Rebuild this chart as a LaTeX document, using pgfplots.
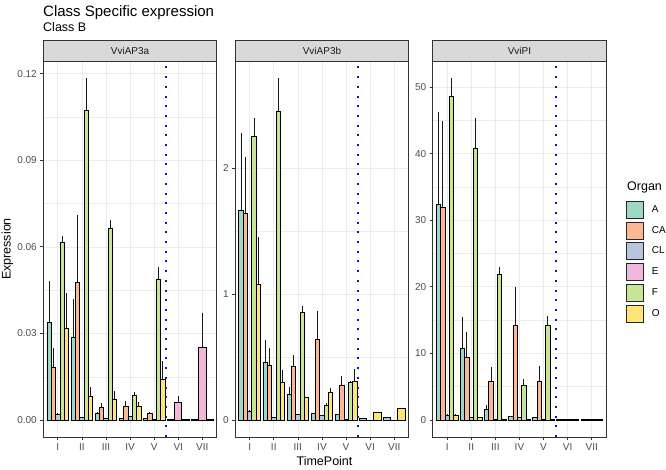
\documentclass[border=0pt]{standalone}
\usepackage{pgfplots}
\pgfplotsset{compat=1.18}
\usepackage{fontspec}
\setmainfont{Liberation Sans}
\definecolor{cA}{RGB}{158,215,197}
\definecolor{cCA}{RGB}{252,184,148}
\definecolor{cCL}{RGB}{185,196,223}
\definecolor{cE}{RGB}{240,183,218}
\definecolor{cF}{RGB}{200,229,150}
\definecolor{cO}{RGB}{255,229,118}
\definecolor{gridc}{RGB}{235,235,235}
\definecolor{framec}{RGB}{51,51,51}
\definecolor{ticklab}{RGB}{77,77,77}
\definecolor{stripc}{RGB}{217,217,217}
\definecolor{vlc}{RGB}{15,15,205}
\pgfplotsset{
  panel/.style={
    scale only axis, width=173.5pt, height=376pt,
    anchor=south west,
    xmin=0.4, xmax=7.6,
    xtick={1,2,3,4,5,6,7}, xticklabels={I,II,III,IV,V,VI,VII},
    axis line style={draw=framec, line width=0.8pt},
    tick style={draw=framec, line width=0.7pt},
    major tick length=3pt, minor tick length=0pt,
    tick align=outside, xtick pos=bottom, ytick pos=left,
    xmajorgrids, ymajorgrids, yminorgrids, minor y tick num=1,
    major grid style={draw=gridc, line width=0.6pt},
    minor grid style={draw=gridc, line width=0.3pt},
    tick label style={font=\fontsize{10}{12}\selectfont, text=ticklab},
    /pgf/number format/assume math mode=true,
    scaled y ticks=false,
  },
  bs/.style={ybar, bar shift=0pt, draw=black, line width=0.75pt, forget plot,
    error bars/y dir=plus, error bars/y explicit, error bars/error mark=none,
    error bars/error bar style={line width=0.9pt, draw=black!90}},
  vline/.style={vlc, line width=2pt, dash pattern=on 2pt off 7.7pt, forget plot},
}
\begin{document}
\begin{tikzpicture}
\path[use as bounding box] (0,0) rectangle (666pt,-469pt);
% ---------------- Panel 1 : VviAP3a
\begin{axis}[panel, at={(43.3pt,-437pt)},
  ymin=-0.0059, ymax=0.1244, ytick={0,0.03,0.06,0.09,0.12},
  yticklabel style={/pgf/number format/.cd, fixed, fixed zerofill, precision=2}]
\addplot[bs, fill=cA, bar width=0.18] coordinates {(0.64,0.0337) +- (0,0.0144) (1.64,0.0288) +- (0,0.0132) (2.64,0.0024) +- (0,0.0004) (3.64,0.0006) +- (0,0) (4.64,0.0005) +- (0,0)};
\addplot[bs, fill=cCA, bar width=0.18] coordinates {(0.82,0.0181) +- (0,0.0067) (1.82,0.0478) +- (0,0.0234) (2.82,0.0044) +- (0,0.0014) (3.82,0.0046) +- (0,0.0020) (4.82,0.0022) +- (0,0.0007)};
\addplot[bs, fill=cCL, bar width=0.18] coordinates {(1,0.0020) +- (0,0.0003) (2,0.0010) +- (0,0.0002) (3,0.0006) +- (0,0) (4,0.0012) +- (0,0.0003) (5,0.0001) +- (0,0)};
\addplot[bs, fill=cF, bar width=0.18] coordinates {(1.18,0.0616) +- (0,0.0021) (2.18,0.1072) +- (0,0.0113) (3.18,0.0663) +- (0,0.0029) (4.18,0.0084) +- (0,0.0014) (5.18,0.0487) +- (0,0.0043)};
\addplot[bs, fill=cO, bar width=0.18] coordinates {(1.36,0.0319) +- (0,0.0121) (2.36,0.0083) +- (0,0.0030) (3.36,0.0073) +- (0,0.0027) (4.36,0.0046) +- (0,0.0017) (5.36,0.0140) +- (0,0.0064)};
\addplot[bs, fill=cCL, bar width=0.3] coordinates {(5.7,0.0003) +- (0,0) (6.7,0.0001) +- (0,0)};
\addplot[bs, fill=cE, bar width=0.3] coordinates {(6,0.0062) +- (0,0.0021) (7,0.0253) +- (0,0.0118)};
\addplot[bs, fill=cO, bar width=0.3] coordinates {(6.3,0.0003) +- (0,0) (7.3,0.0003) +- (0,0)};
\addplot[vline] coordinates {(5.5,-0.0059) (5.5,0.1244)};
\end{axis}
% ---------------- Panel 2 : VviAP3b
\begin{axis}[panel, at={(235.2pt,-437pt)},
  ymin=-0.136, ymax=2.853, ytick={0,1,2}]
\addplot[bs, fill=cA, bar width=0.18] coordinates {(0.64,1.667) +- (0,0.613) (1.64,0.455) +- (0,0.180) (2.64,0.204) +- (0,0.061) (3.64,0.050) +- (0,0.005) (4.64,0.045) +- (0,0.005)};
\addplot[bs, fill=cCA, bar width=0.18] coordinates {(0.82,1.643) +- (0,0.444) (1.82,0.434) +- (0,0.137) (2.82,0.429) +- (0,0.084) (3.82,0.643) +- (0,0.222) (4.82,0.275) +- (0,0.077)};
\addplot[bs, fill=cCL, bar width=0.18] coordinates {(1,0.070) +- (0,0.010) (2,0.020) +- (0,0.003) (3,0.040) +- (0,0.008) (4,0.032) +- (0,0.005) (5,0.008) +- (0,0)};
\addplot[bs, fill=cF, bar width=0.18] coordinates {(1.18,2.254) +- (0,0.146) (2.18,2.455) +- (0,0.262) (3.18,0.854) +- (0,0.051) (4.18,0.114) +- (0,0.024) (5.18,0.302) +- (0,0.010)};
\addplot[bs, fill=cO, bar width=0.18] coordinates {(1.36,1.077) +- (0,0.378) (2.36,0.296) +- (0,0.101) (3.36,0.177) +- (0,0.008) (4.36,0.217) +- (0,0.040) (5.36,0.304) +- (0,0.101)};
\addplot[bs, fill=cCL, bar width=0.3] coordinates {(5.7,0.010) +- (0,0) (6.7,0.019) +- (0,0.002)};
\addplot[bs, fill=cE, bar width=0.3] coordinates {(6,0) +- (0,0) (7,0) +- (0,0)};
\addplot[bs, fill=cO, bar width=0.3] coordinates {(6.3,0.058) +- (0,0.004) (7.3,0.093) +- (0,0.005)};
\addplot[vline] coordinates {(5.5,-0.136) (5.5,2.853)};
\end{axis}
% ---------------- Panel 3 : VviPI
\begin{axis}[panel, at={(432.7pt,-437pt)},
  ymin=-2.57, ymax=53.9, ytick={0,10,20,30,40,50},
  legend style={at={(1.114,0.629)}, anchor=north west, draw=none, fill=none,
    inner sep=0pt, row sep=3pt, font=\fontsize{10}{12}\selectfont,
    nodes={inner sep=0pt}, /tikz/every odd column/.append style={column sep=8pt}},
  legend cell align=left,
  legend image code/.code={\draw[#1, line width=0.8pt, draw=black!85] (0pt,-8.5pt) rectangle (17pt,8.5pt);}]
\addplot[bs, fill=cA, bar width=0.18] coordinates {(0.64,32.4) +- (0,13.9) (1.64,10.7) +- (0,4.8) (2.64,1.6) +- (0,0.65) (3.64,0.5) +- (0,0.05) (4.64,0.4) +- (0,0.05)};
\addplot[bs, fill=cCA, bar width=0.18] coordinates {(0.82,31.85) +- (0,13.05) (1.82,9.4) +- (0,3.85) (2.82,5.75) +- (0,2.15) (3.82,14.25) +- (0,5.75) (4.82,5.85) +- (0,2.3)};
\addplot[bs, fill=cCL, bar width=0.18] coordinates {(1,0.75) +- (0,0.1) (2,0.4) +- (0,0.05) (3,0.15) +- (0,0) (4,0.4) +- (0,0.05) (5,0.05) +- (0,0)};
\addplot[bs, fill=cF, bar width=0.18] coordinates {(1.18,48.65) +- (0,2.7) (2.18,40.85) +- (0,4.5) (3.18,21.85) +- (0,1.05) (4.18,5.25) +- (0,0.85) (5.18,14.25) +- (0,1.3)};
\addplot[bs, fill=cO, bar width=0.18] coordinates {(1.36,0.75) +- (0,0.1) (2.36,0.4) +- (0,0.05) (3.36,0.05) +- (0,0) (4.36,0.05) +- (0,0) (5.36,0.03) +- (0,0)};
\addplot[bs, fill=cCL, bar width=0.3] coordinates {(5.7,0.02) +- (0,0) (6.7,0.02) +- (0,0)};
\addplot[bs, fill=cE, bar width=0.3] coordinates {(6,0.02) +- (0,0) (7,0.02) +- (0,0)};
\addplot[bs, fill=cO, bar width=0.3] coordinates {(6.3,0.02) +- (0,0) (7.3,0.02) +- (0,0)};
\addplot[vline] coordinates {(5.5,-2.57) (5.5,53.9)};
\addlegendimage{fill=cA}\addlegendentry{A}
\addlegendimage{fill=cCA}\addlegendentry{CA}
\addlegendimage{fill=cCL}\addlegendentry{CL}
\addlegendimage{fill=cE}\addlegendentry{E}
\addlegendimage{fill=cF}\addlegendentry{F}
\addlegendimage{fill=cO}\addlegendentry{O}
\end{axis}
% ---------------- strips
\foreach \xl/\lab in {43.3/VviAP3a, 235.2/VviAP3b, 432.7/VviPI}{
  \draw[fill=stripc, draw=framec, line width=0.8pt] (\xl pt,-61pt) rectangle ({\xl pt+173.5pt},-40pt);
  \node[font=\fontsize{10}{12}\selectfont, text=black!90] at ({\xl pt+86.75pt},-50.5pt) {\lab};
}
% ---------------- titles
\node[anchor=base west, font=\fontsize{15}{18}\selectfont, inner sep=0pt] at (43pt,-16pt) {Class Specific expression};
\node[anchor=base west, font=\fontsize{12.5}{15}\selectfont, inner sep=0pt] at (43pt,-31.5pt) {Class B};
\node[rotate=90, font=\fontsize{12.5}{15}\selectfont, inner sep=0pt] at (7.5pt,-249pt) {Expression};
\node[font=\fontsize{12.5}{15}\selectfont, inner sep=0pt] at (324.5pt,-461.5pt) {TimePoint};
\node[anchor=west, font=\fontsize{12.5}{15}\selectfont, inner sep=0pt] at (627pt,-187pt) {Organ};
\end{tikzpicture}
\end{document}
